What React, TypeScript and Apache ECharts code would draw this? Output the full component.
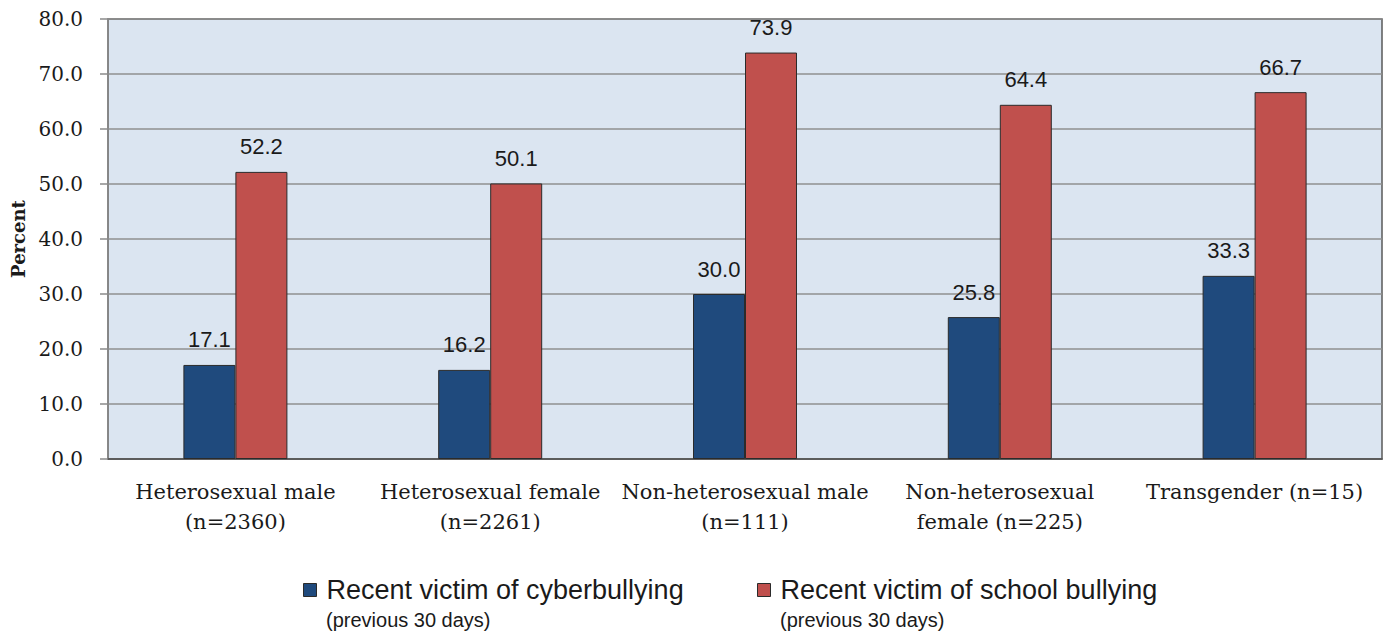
import React, { useEffect, useRef } from "react";
import * as echarts from "echarts";

const categories = [
  "Heterosexual male\n(n=2360)",
  "Heterosexual female\n(n=2261)",
  "Non-heterosexual male\n(n=111)",
  "Non-heterosexual\nfemale (n=225)",
  "Transgender (n=15)",
];
const cyberValues = [17.1, 16.2, 30.0, 25.8, 33.3];
const schoolValues = [52.2, 50.1, 73.9, 64.4, 66.7];
const seriesNames = ["Recent victim of cyberbullying", "Recent victim of school bullying"];
const seriesSubtitles = ["(previous 30 days)", "(previous 30 days)"];
const seriesColors = ["#1f4a7d", "#c0504d"];

const SERIF = "'DejaVu Serif', 'Liberation Serif', serif";
const SANS = "'Liberation Sans', Arial, sans-serif";

export default function App() {
  const ref = useRef<HTMLDivElement>(null);
  useEffect(() => {
    if (!ref.current) return;
    const chart = echarts.init(ref.current, undefined, { renderer: "svg" });
    const mkSeries = (name: string, data: number[], color: string) => ({
      name,
      type: "bar",
      data,
      barWidth: 52,
      barGap: "0%",
      itemStyle: { color, borderColor: "#2b2b2b", borderWidth: 1 },
      label: {
        show: true,
        position: "top",
        distance: 14,
        formatter: (p: any) => Number(p.value).toFixed(1),
        fontFamily: SANS,
        fontSize: 22,
        color: "#1a1a1a",
      },
    });
    const legendBase = {
      top: 576,
      padding: 0,
      itemWidth: 13,
      itemHeight: 13,
      icon: "rect",
      textStyle: { fontFamily: SANS, fontSize: 27, lineHeight: 28, color: "#1a1a1a", padding: [0, 0, 0, 5] },
      itemStyle: { borderColor: "#2b2b2b", borderWidth: 1 },
    };
    chart.setOption({
      animation: false,
      backgroundColor: "#ffffff",
      grid: {
        left: 108,
        right: 5,
        top: 19,
        bottom: 174,
        outerBoundsMode: "none",
        containLabel: false,
        show: true,
        backgroundColor: "#dbe5f1",
        borderColor: "#5a5a5a",
        borderWidth: 1.5,
      },
      legend: [
        { ...legendBase, data: [seriesNames[0]], left: 303 },
        { ...legendBase, data: [seriesNames[1]], left: 757 },
      ],
      graphic: [
        {
          type: "text",
          left: 326,
          top: 610,
          style: { text: seriesSubtitles[0], fontFamily: SANS, fontSize: 20, fill: "#1a1a1a" },
        },
        {
          type: "text",
          left: 780,
          top: 610,
          style: { text: seriesSubtitles[1], fontFamily: SANS, fontSize: 20, fill: "#1a1a1a" },
        },
      ],
      xAxis: {
        type: "category",
        data: categories,
        axisLine: { show: true, lineStyle: { color: "#4d4d4d", width: 1.5 } },
        axisTick: { show: false },
        axisLabel: {
          interval: 0,
          margin: 18,
          fontFamily: SERIF,
          fontSize: 21,
          lineHeight: 30,
          color: "#1a1a1a",
        },
      },
      yAxis: {
        type: "value",
        min: 0,
        max: 80,
        interval: 10,
        name: "Percent",
        nameLocation: "middle",
        nameGap: 81,
        nameTextStyle: { fontFamily: SERIF, fontSize: 18, fontWeight: "bold", color: "#1a1a1a" },
        axisLine: { show: true, lineStyle: { color: "#8a8a8a", width: 1.5 } },
        axisTick: { show: true, inside: false, length: 8, lineStyle: { color: "#8a8a8a", width: 1.5 } },
        splitLine: { show: true, lineStyle: { color: "#8f8f8f", width: 1.5 } },
        axisLabel: {
          margin: 25,
          fontFamily: SERIF,
          fontSize: 20,
          color: "#1a1a1a",
          formatter: (v: number) => v.toFixed(1),
        },
      },
      series: [
        mkSeries(seriesNames[0], cyberValues, seriesColors[0]),
        mkSeries(seriesNames[1], schoolValues, seriesColors[1]),
      ],
    });
    return () => chart.dispose();
  }, []);
  return <div ref={ref} style={{ width: 1387, height: 633, position: "absolute", left: 0, top: 0 }} />;
}
